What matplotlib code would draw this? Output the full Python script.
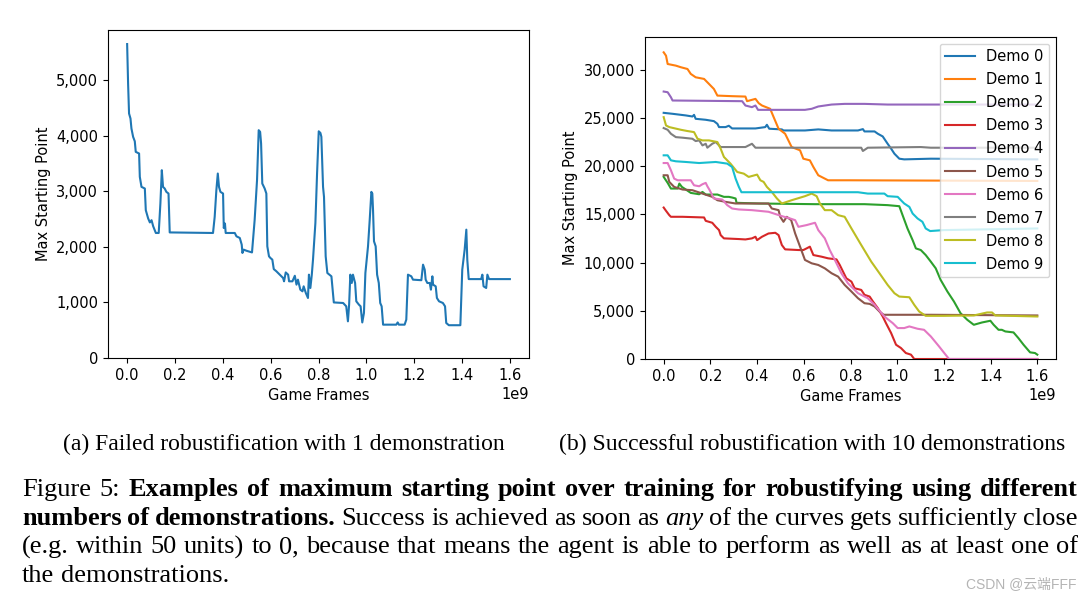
import numpy as np
import matplotlib
matplotlib.use("Agg")
import matplotlib.pyplot as plt
from matplotlib.ticker import FuncFormatter

W, H = 1092, 600

# ---- (a) single demonstration, x in units of 1e9 game frames
frames_a = [0.000, 0.004, 0.008, 0.014, 0.018, 0.025, 0.032, 0.036, 0.050, 0.053,
            0.060, 0.074, 0.078, 0.088, 0.095, 0.102, 0.109, 0.120, 0.132, 0.139,
            0.145, 0.150, 0.157, 0.164, 0.173, 0.178, 0.359, 0.366, 0.373, 0.379,
            0.384, 0.390, 0.401, 0.404, 0.409, 0.412, 0.450, 0.457, 0.471, 0.479,
            0.482, 0.487, 0.499, 0.522, 0.533, 0.543, 0.550, 0.556, 0.560, 0.565,
            0.575, 0.582, 0.586, 0.593, 0.599, 0.607, 0.613, 0.624, 0.638, 0.652,
            0.656, 0.663, 0.673, 0.677, 0.691, 0.701, 0.708, 0.714, 0.724, 0.733,
            0.738, 0.747, 0.756, 0.760, 0.766, 0.772, 0.777, 0.787, 0.794, 0.801,
            0.808, 0.812, 0.819, 0.823, 0.830, 0.837, 0.854, 0.864, 0.903, 0.916,
            0.923, 0.928, 0.933, 0.939, 0.944, 0.953, 0.958, 0.969, 0.976, 0.983,
            0.990, 0.996, 1.007, 1.014, 1.021, 1.025, 1.028, 1.032, 1.039, 1.045,
            1.052, 1.058, 1.064, 1.070, 1.125, 1.131, 1.136, 1.160, 1.167, 1.174,
            1.188, 1.195, 1.230, 1.237, 1.244, 1.248, 1.255, 1.265, 1.270, 1.276,
            1.279, 1.290, 1.295, 1.304, 1.320, 1.329, 1.334, 1.345, 1.393, 1.401,
            1.411, 1.418, 1.422, 1.428, 1.480, 1.485, 1.490, 1.501, 1.506, 1.513,
            1.600]
start_a = [5650, 4940, 4400, 4310, 4130, 3980, 3900, 3710, 3680, 3260,
           3080, 3050, 2660, 2510, 2440, 2480, 2370, 2250, 2250, 2780,
           3380, 3080, 3050, 2990, 2960, 2260, 2250, 2540, 3020, 3320,
           3080, 2990, 2960, 2340, 2420, 2250, 2250, 2190, 2160, 2040,
           1890, 1950, 1930, 1900, 2480, 3200, 4100, 4070, 3860, 3140,
           3050, 2960, 2010, 1830, 1800, 1770, 1600, 1560, 1500, 1440,
           1380, 1540, 1500, 1380, 1380, 1480, 1320, 1410, 1230, 1200,
           1290, 1170, 1080, 1500, 1260, 1500, 1770, 2430, 3320, 4080,
           4050, 3980, 3080, 2900, 1830, 1530, 1470, 1000, 990, 930,
           660, 960, 1500, 1350, 1500, 1350, 1020, 960, 930, 640,
           810, 1530, 2010, 2480, 2990, 2960, 2660, 2100, 2010, 1500,
           1350, 990, 930, 600, 600, 640, 600, 600, 690, 1500,
           1470, 1410, 1400, 1680, 1590, 1410, 1350, 1350, 1230, 1470,
           1320, 1290, 1080, 1020, 990, 930, 630, 590, 590, 1590,
           1950, 2310, 1770, 1420, 1420, 1500, 1290, 1260, 1500, 1420,
           1420]

# ---- (b) ten demonstrations
frames_d0 = [0, 0.038, 0.095, 0.123, 0.130, 0.137, 0.180, 0.215, 0.230, 0.237, 0.265, 0.279,
             0.293, 0.393, 0.435, 0.442, 0.452, 0.506, 0.513, 0.577, 0.605, 0.662, 0.719,
             0.832, 0.853, 0.860, 0.903, 0.917, 0.938, 0.959, 0.974, 0.988, 1.009, 1.030,
             1.144, 1.600]
start_d0 = [25550, 25450, 25280, 25170, 25340, 24930, 24830, 24690, 24410, 24070, 24070, 24210,
            23930, 23930, 24070, 24310, 23900, 23830, 23720, 23720, 23720, 23830, 23720,
            23720, 23860, 23620, 23620, 23380, 23100, 22340, 21830, 21310, 20790, 20720,
            20790, 20720]

frames_d1 = [0, 0.010, 0.017, 0.052, 0.074, 0.102, 0.116, 0.137, 0.173, 0.194, 0.215, 0.230,
             0.293, 0.350, 0.357, 0.378, 0.393, 0.407, 0.421, 0.456, 0.471, 0.492, 0.520,
             0.534, 0.548, 0.584, 0.598, 0.626, 0.641, 0.662, 0.704, 0.789, 1.600]
start_d1 = [31830, 31480, 30620, 30450, 30280, 30100, 29590, 29240, 29070, 28550, 28030, 27340,
            27280, 27240, 26760, 26900, 27000, 26550, 26310, 25970, 25100, 23900, 23380,
            22690, 22000, 21660, 20790, 20620, 19930, 19070, 18550, 18550, 18480]

frames_d2 = [0, 0.017, 0.031, 0.060, 0.067, 0.078, 0.095, 0.116, 0.152, 0.166,
             0.180, 0.230, 0.258, 0.279, 0.293, 0.308, 0.312, 0.407, 0.648, 0.860,
             0.959, 1.009, 1.023, 1.044, 1.066, 1.080, 1.101, 1.122, 1.144, 1.165,
             1.186, 1.215, 1.243, 1.271, 1.300, 1.328, 1.363, 1.399, 1.413, 1.434,
             1.448, 1.463, 1.498, 1.519, 1.541, 1.569, 1.590, 1.600]
start_d2 = [18900, 18280, 17690, 17690, 18210, 17860, 17590, 17240, 17100, 17340,
            17070, 17070, 16830, 16830, 16760, 16660, 16210, 16140, 16070, 16070,
            15970, 15860, 14930, 13550, 12340, 11480, 11310, 10790, 10100, 9410,
            8210, 7000, 5970, 4760, 4070, 3550, 3790, 3970, 3550, 3030,
            3030, 2860, 2760, 2170, 1480, 690, 620, 450]

frames_d3 = [0, 0.010, 0.024, 0.031, 0.081, 0.173, 0.180, 0.208, 0.223, 0.237,
             0.244, 0.258, 0.322, 0.350, 0.378, 0.393, 0.400, 0.421, 0.449, 0.478,
             0.492, 0.506, 0.520, 0.577, 0.598, 0.612, 0.626, 0.641, 0.676, 0.704,
             0.740, 0.754, 0.768, 0.782, 0.804, 0.818, 0.846, 0.860, 0.882, 0.896,
             0.917, 0.938, 0.952, 0.974, 0.995, 1.016, 1.037, 1.059, 1.073, 1.600]
start_d3 = [15720, 15380, 14930, 14760, 14760, 14690, 14340, 14140, 13720, 13380,
            12860, 12520, 12450, 12410, 12520, 12690, 12340, 12690, 13030, 13100,
            12860, 11830, 11380, 11310, 11310, 11480, 11660, 10790, 10620, 10450,
            10340, 9760, 9070, 8380, 8030, 7340, 7170, 6660, 6480, 5970,
            5280, 4410, 3720, 2690, 1480, 1140, 620, 450, 0, 0]

frames_d4 = [0, 0.017, 0.031, 0.038, 0.336, 0.350, 0.378, 0.393, 0.404, 0.605, 0.634, 0.662,
             0.719, 0.775, 0.860, 0.959, 1.144, 1.600]
start_d4 = [27760, 27690, 27170, 26830, 26760, 26310, 26140, 26310, 25860, 25860, 25970, 26210,
            26410, 26480, 26480, 26410, 26410, 26410]

frames_d5 = [0, 0.017, 0.024, 0.045, 0.081, 0.123, 0.166, 0.208, 0.230, 0.265,
             0.308, 0.449, 0.463, 0.492, 0.499, 0.513, 0.527, 0.546, 0.563, 0.584,
             0.605, 0.634, 0.662, 0.690, 0.719, 0.747, 0.775, 0.804, 0.832, 0.860,
             0.882, 0.903, 0.924, 0.942, 1.144, 1.600]
start_d5 = [19070, 19070, 18380, 17860, 17590, 17520, 17170, 16830, 16480, 16310,
            16140, 16140, 15620, 15450, 14760, 14240, 14760, 14410, 13030, 11660,
            10280, 9930, 9760, 9410, 8900, 8550, 7690, 7000, 6310, 5790,
            5720, 5450, 4930, 4590, 4590, 4520]

frames_d6 = [0, 0.017, 0.031, 0.045, 0.060, 0.116, 0.130, 0.152, 0.166, 0.180,
             0.187, 0.197, 0.215, 0.251, 0.272, 0.293, 0.322, 0.378, 0.449, 0.506,
             0.541, 0.563, 0.577, 0.612, 0.648, 0.662, 0.690, 0.711, 0.733, 0.761,
             0.789, 0.832, 0.874, 0.903, 0.945, 0.981, 1.002, 1.030, 1.052, 1.087,
             1.115, 1.144, 1.179, 1.207, 1.222, 1.600]
start_d6 = [20340, 20340, 19590, 18720, 18550, 18550, 18030, 17930, 18140, 18280,
            17930, 17520, 16660, 16550, 15970, 15620, 15520, 15450, 15280, 14830,
            14590, 14410, 13720, 13900, 14140, 13380, 12520, 11310, 10280, 8900,
            7860, 6830, 6310, 5620, 4410, 3720, 3210, 3210, 3380, 3140,
            3030, 2340, 1310, 450, 0, 0]

frames_d7 = [0, 0.017, 0.031, 0.052, 0.081, 0.123, 0.137, 0.152, 0.166, 0.180, 0.187, 0.208,
             0.223, 0.244, 0.350, 0.378, 0.393, 0.846, 0.853, 0.874, 1.101, 1.144, 1.600]
start_d7 = [23970, 23790, 23380, 23030, 22970, 22860, 22620, 22690, 22170, 22340, 21930, 22340,
            22520, 22000, 22000, 22340, 21930, 21930, 21590, 21930, 22000, 21930, 21930]

frames_d8 = [0, 0.010, 0.024, 0.074, 0.102, 0.130, 0.145, 0.166, 0.194, 0.230,
             0.244, 0.258, 0.286, 0.315, 0.343, 0.364, 0.400, 0.414, 0.428, 0.442,
             0.463, 0.485, 0.506, 0.548, 0.605, 0.634, 0.655, 0.669, 0.690, 0.719,
             0.747, 0.775, 0.804, 0.846, 0.889, 0.924, 0.959, 0.988, 1.009, 1.052,
             1.073, 1.094, 1.122, 1.200, 1.328, 1.385, 1.406, 1.420, 1.600]
start_d8 = [25100, 24240, 24070, 23790, 23660, 23550, 22860, 22690, 22690, 22520,
            21830, 20970, 20280, 19410, 19240, 18900, 19140, 18550, 18380, 17860,
            17340, 16660, 16140, 16480, 16900, 17170, 16900, 16140, 15450, 15450,
            14930, 14760, 13550, 11830, 10100, 8900, 7690, 6830, 6480, 6410,
            5620, 4930, 4480, 4480, 4520, 4830, 4830, 4520, 4410]

frames_d9 = [0, 0.017, 0.031, 0.052, 0.095, 0.152, 0.223, 0.272, 0.293, 0.308, 0.322, 0.333,
             0.435, 0.832, 0.874, 0.945, 0.959, 1.002, 1.016, 1.030, 1.052, 1.066, 1.087,
             1.108, 1.122, 1.141, 1.200, 1.600]
start_d9 = [21140, 21140, 20620, 20520, 20450, 20340, 20450, 20280, 19930, 18720, 17860, 17310,
            17310, 17310, 17170, 17170, 16900, 16830, 16480, 16140, 15790, 15100, 14590,
            14240, 13550, 13280, 13380, 13550]

demo_frames = [frames_d0, frames_d1, frames_d2, frames_d3, frames_d4,
               frames_d5, frames_d6, frames_d7, frames_d8, frames_d9]
demo_starts = [start_d0, start_d1, start_d2, start_d3, start_d4,
               start_d5, start_d6, start_d7, start_d8, start_d9]
demo_labels = ["Demo %d" % i for i in range(10)]

sub_a = "(a) Failed robustification with 1 demonstration"
sub_b = "(b) Successful robustification with 10 demonstrations"
caption = [
    [("Figure 5:", "n"), ("Examples of maximum starting point over training for robustifying using different", "b")],
    [("numbers of demonstrations.", "b"), ("Success is achieved as soon as", "n"), ("any", "i"),
     ("of the curves gets sufficiently close", "n")],
    [("(e.g. within 50 units) to 0, because that means the agent is able to perform as well as at least one of", "n")],
    [("the demonstrations.", "n")],
]

FS = 10.5
plt.rcParams["font.size"] = FS
fig = plt.figure(figsize=(W / 100, H / 100), dpi=100)
comma = FuncFormatter(lambda v, p: "{:,.0f}".format(v))

# pixel boxes of the two axes: left, top, right, bottom
for box, kind in [((108, 30, 529, 358), "a"), ((645, 37, 1056, 359), "b")]:
    l, t, r, b = box
    ax = fig.add_axes([l / W, 1 - b / H, (r - l) / W, (b - t) / H])
    if kind == "a":
        ax.plot(np.array(frames_a) * 1e9, start_a, color="C0", lw=1.5)
    else:
        for i in range(10):
            ax.plot(np.array(demo_frames[i]) * 1e9, demo_starts[i], color="C%d" % i,
                    lw=1.5, label=demo_labels[i])
        ax.legend(loc="upper right", fontsize=FS, borderaxespad=0.45, labelspacing=0.55)
    ax.set_ylim(bottom=0)
    ax.yaxis.set_major_formatter(comma)
    ax.set_xlabel("Game Frames", fontsize=FS)
    ax.set_ylabel("Max Starting Point", fontsize=FS)
    ax.tick_params(labelsize=FS)

SERIF = "Liberation Serif"
r = fig.canvas.get_renderer()


def add_word(x, y, s, st, size):
    return fig.text(x / W, 1 - y / H, s, fontsize=size, family=SERIF,
                    weight="bold" if st == "b" else "normal",
                    style="italic" if st == "i" else "normal",
                    va="baseline", ha="left", color="black")


def put_line(runs, y, x0, x1, size, justify):
    # place the words one by one so that full lines come out justified
    words = [(w, st) for s, st in runs for w in s.split()]
    arts = [add_word(0, y, w, st, size) for w, st in words]
    widths = [a.get_window_extent(r).width for a in arts]
    if justify:
        gap = (x1 - x0 - sum(widths)) / (len(words) - 1)
    else:
        gap = 0.25 * size * 100 / 72
    x = x0
    for a, w in zip(arts, widths):
        a.set_x(x / W)
        x += w + gap


# sub captions
fig.text(283.5 / W, 1 - 450 / H, sub_a, fontsize=17, family=SERIF, ha="center", va="baseline")
fig.text(812.5 / W, 1 - 450 / H, sub_b, fontsize=17, family=SERIF, ha="center", va="baseline")

cap_size = 19
for k, line in enumerate(caption):
    put_line(line, 496 + k * 28.7, 22, 1078, cap_size, justify=(k < 3))

fig.text(1076 / W, 1 - 588 / H, "CSDN @云端FFF", fontsize=10, color="#b4b4b4",
         family=["Liberation Sans", "Noto Sans CJK SC"], ha="right", va="baseline")

fig.savefig("out.png", dpi=100)
